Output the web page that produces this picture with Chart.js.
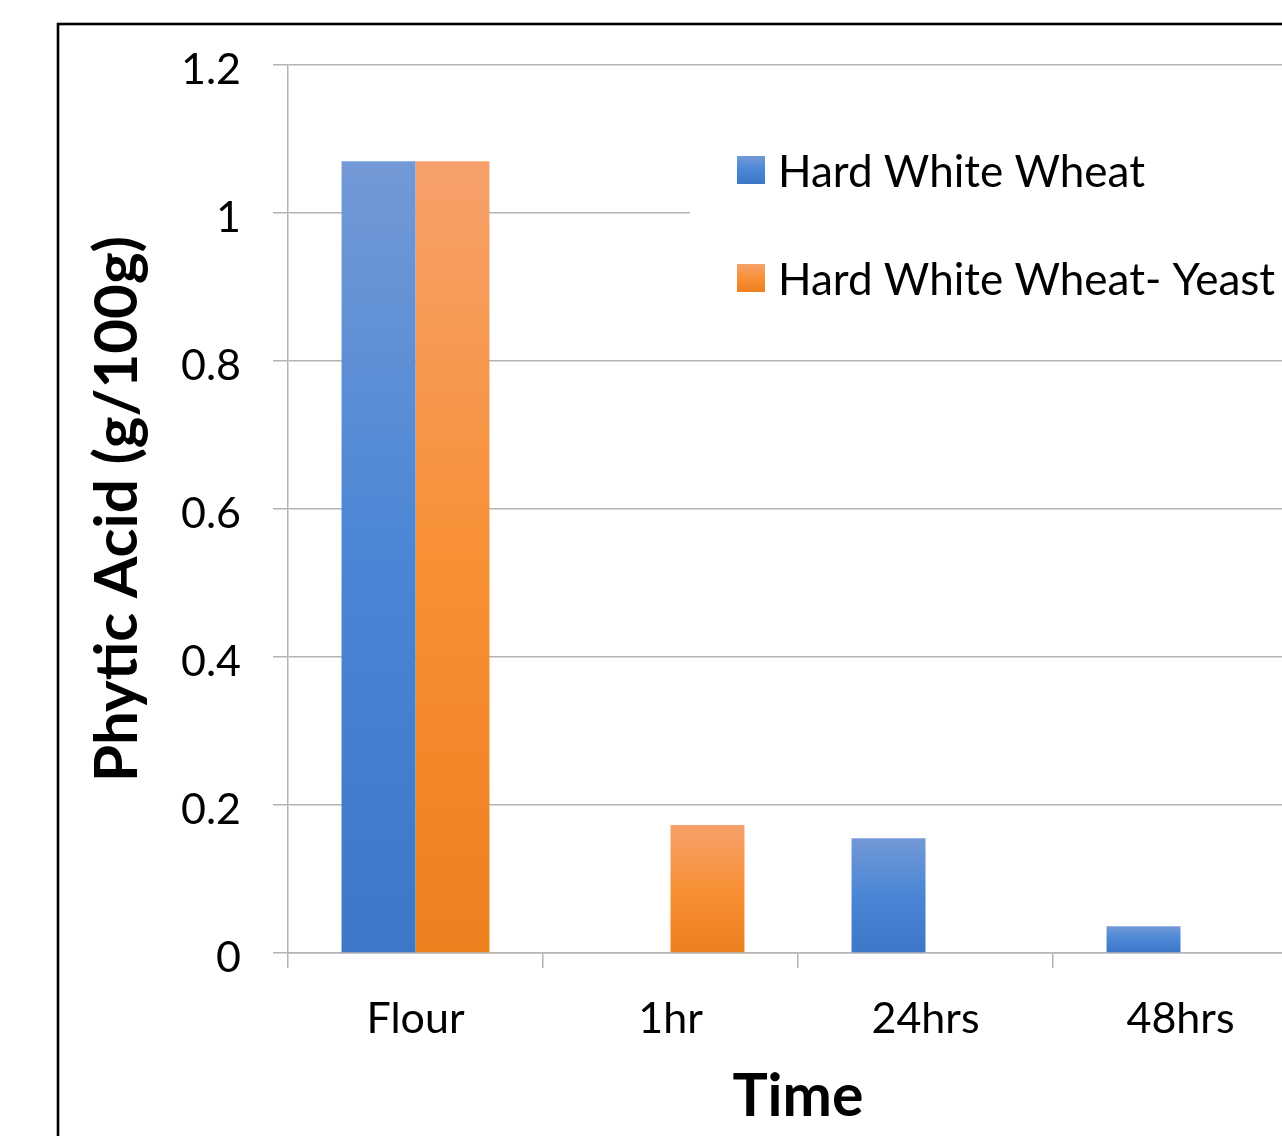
<!DOCTYPE html>
<html>
<head>
<meta charset="utf-8">
<script src="https://cdn.jsdelivr.net/npm/chart.js@4"></script>
<style>
  html, body { margin: 0; padding: 0; background: #fff; overflow: hidden; width: 1282px; height: 1136px; }
  #wrap { position: absolute; left: 0; top: 0; width: 1600px; height: 1136px; }
</style>
</head>
<body>
<div id="wrap"><canvas id="c" width="1600" height="1136"></canvas></div>
<script>
// Phytic acid content over fermentation time
const categories = ['Flour', '1hr', '24hrs', '48hrs'];
const seriesNames = ['Hard White Wheat', 'Hard White Wheat- Yeast'];
const wheat = [1.07, 0, 0.155, 0.036];
const wheatYeast = [1.07, 0.173, 0, 0];
const yTickLabels = ['0', '0.2', '0.4', '0.6', '0.8', '1', '1.2'];
const xTitle = 'Time';
const yTitle = 'Phytic Acid (g/100g)';

// light-to-dark vertical gradient stops per series
const blueStops = ['#7399D6', '#4A86D5', '#3C78C7'];
const orangeStops = ['#F6A16B', '#F89036', '#ED801F'];

const GRID = '#b4b4b4';
const FONT = 'Lato';

function barFill(stops) {
  return (ctx) => {
    const chart = ctx.chart;
    if (ctx.type !== 'data' || !chart.chartArea || !ctx.parsed) return stops[1];
    const ys = chart.scales.y;
    const top = ys.getPixelForValue(ctx.parsed.y);
    const base = ys.getPixelForValue(0);
    if (!(base - top > 0.5)) return stops[1];
    const g = chart.ctx.createLinearGradient(0, top, 0, base);
    g.addColorStop(0, stops[0]);
    g.addColorStop(0.5, stops[1]);
    g.addColorStop(1, stops[2]);
    return g;
  };
}

// legend box on a white panel, plus the outer frame
const decorations = {
  id: 'decorations',
  afterDraw(chart) {
    const c = chart.ctx;
    c.save();
    c.fillStyle = '#fff';
    c.fillRect(690, 95, 1000, 245);
    const stopsList = [blueStops, orangeStops];
    chart.data.datasets.forEach((ds, i) => {
      const sy = 156 + i * 108;
      const g = c.createLinearGradient(0, sy, 0, sy + 28);
      g.addColorStop(0, stopsList[i][0]);
      g.addColorStop(0.5, stopsList[i][1]);
      g.addColorStop(1, stopsList[i][2]);
      c.fillStyle = g;
      c.fillRect(737, sy, 28, 28);
      c.fillStyle = '#000';
      c.font = '44px ' + FONT;
      c.textBaseline = 'middle';
      c.textAlign = 'left';
      c.fillText(ds.label, 778, sy + 17);
    });
    c.strokeStyle = '#000';
    c.lineWidth = 2.6;
    c.strokeRect(58, 24, 3000, 3000);
    c.restore();
  }
};

new Chart(document.getElementById('c'), {
  type: 'bar',
  data: {
    labels: categories,
    datasets: [
      { label: seriesNames[0], data: wheat, backgroundColor: barFill(blueStops), borderWidth: 0 },
      { label: seriesNames[1], data: wheatYeast, backgroundColor: barFill(orangeStops), borderWidth: 0 }
    ]
  },
  options: {
    responsive: false,
    animation: false,
    devicePixelRatio: 1,
    categoryPercentage: 0.58,
    barPercentage: 1,
    layout: { padding: { left: 60, top: 65, right: 292, bottom: 0 } },
    plugins: { legend: { display: false }, tooltip: { enabled: false } },
    scales: {
      x: {
        grid: { drawOnChartArea: false, drawTicks: true, tickLength: 15, color: GRID, lineWidth: 1.5, offset: true },
        border: { color: GRID, width: 1.5 },
        ticks: { font: { family: FONT, size: 43 }, color: '#000', padding: 25, maxRotation: 0 },
        title: { display: true, text: xTitle, color: '#000', font: { family: FONT, size: 59, weight: 'bold' }, padding: { top: 0, bottom: 4 } },
        afterFit(s) { s.height = 183; }
      },
      y: {
        min: 0,
        max: 1.2,
        ticks: {
          stepSize: 0.2,
          callback: (v, i) => yTickLabels[i],
          font: { family: FONT, size: 43 },
          color: '#000',
          padding: 32,
          labelOffset: 5
        },
        grid: { color: GRID, lineWidth: 1.5, tickLength: 15 },
        border: { color: GRID, width: 1.5 },
        title: { display: true, text: yTitle, color: '#000', font: { family: FONT, size: 60, weight: 'bold' }, padding: { top: 22, bottom: 0 } },
        afterFit(s) { s.width = 228; }
      }
    }
  },
  plugins: [decorations]
});
</script>
</body>
</html>
